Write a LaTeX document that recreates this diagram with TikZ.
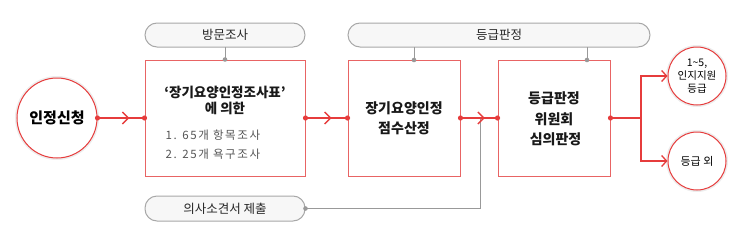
\documentclass[tikz,border=0pt]{standalone}
\usepackage{fontspec}
\setmainfont{Noto Sans CJK KR}
\newfontfamily\listfont{Noto Sans CJK KR}[LetterSpace=14]
\usetikzlibrary{arrows.meta, decorations.markings}
\definecolor{flowred}{HTML}{E63C3C}
\definecolor{boxred}{HTML}{E86464}
\definecolor{pillgray}{HTML}{A8A8A8}
\definecolor{pillfill}{HTML}{F7F7F7}
\definecolor{tapgray}{HTML}{999999}
\definecolor{listgray}{HTML}{555555}
\begin{document}
\begin{tikzpicture}[x=1pt, y=-1pt, line cap=round,
    stepbox/.style={draw=boxred, line width=1pt, fill=white, minimum height=116pt, inner sep=0pt},
    pillbox/.style={draw=pillgray, line width=1pt, fill=pillfill, rounded corners=12pt,
      minimum height=24pt, inner sep=0pt, font=\fontsize{12.5}{14}\selectfont, text=black!85},
    endcircle/.style={circle, draw=flowred, line width=1pt, fill=white, inner sep=0pt,
      preaction={draw=black!7, line width=4pt}},
    redline/.style={draw=flowred, line width=1.3pt},
    chevron/.style={decoration={markings, mark=at position #1 with
      {\arrow{Straight Barb[length=6pt, width=12pt, line width=1.4pt]}}}, postaction={decorate}},
    tipline/.style={redline, -{Straight Barb[length=5pt, width=11pt, line width=1.3pt]}},
    grayline/.style={draw=tapgray, line width=1pt},
    boldtext/.style={font=\bfseries\fontsize{14}{20}\selectfont, text=black!90, align=center}]
    \useasboundingbox (0,0) rectangle (746,233);

    % ---- main steps ----
    \node[endcircle, minimum size=80pt, font=\bfseries\fontsize{15}{18}\selectfont] (apply) at (57,118) {인정신청};
    \node[stepbox, minimum width=160pt] (survey) at (225,118) {};
    \node[stepbox, minimum width=112pt] (score) at (404,118) {};
    \node[stepbox, minimum width=112pt] (review) at (554,118) {};

    % ---- texts inside the steps ----
    \node[boldtext, font=\bfseries\fontsize{13.5}{16}\selectfont] (surveyTitle) at (225,100) {‘장기요양인정조사표’\\에 의한};
    \node[anchor=west, align=left, text=listgray, font=\listfont\fontsize{11.5}{19}\selectfont] (surveyList) at (162,145) {1. 65개 항목조사\\2. 25개 욕구조사};
    \node[boldtext] (scoreText) at (404,118) {장기요양인정\\점수산정};
    \node[boldtext, font=\bfseries\fontsize{14}{20.5}\selectfont] (reviewText) at (554,119) {등급판정\\위원회\\\ 심의판정};

    % ---- results ----
    \node[endcircle, minimum size=58pt, align=center, font=\fontsize{10.5}{13}\selectfont] (gradeIn) at (697,76) {1\textasciitilde5,\\인지지원\\등급};
    \node[endcircle, minimum size=58pt, font=\fontsize{11}{13}\selectfont] (gradeOut) at (697,161) {등급 외};

    % ---- labels above and below ----
    \node[pillbox, minimum width=160pt] (visit) at (225,35) {방문조사};
    \node[pillbox, minimum width=302pt] (grading) at (499,35) {등급판정};
    \node[pillbox, minimum width=160pt, minimum height=25pt] (opinion) at (225,208.5) {의사소견서 제출};

    % ---- taps from the labels ----
    \coordinate (tapA) at (414,60);
    \coordinate (tapB) at (587,60);
    \draw[grayline] (visit.south) -- (survey.north);
    \draw[grayline] (tapA |- grading.south) -- (tapA);
    \draw[grayline] (tapB |- grading.south) -- (tapB);
    \fill[tapgray] (survey.north) circle (2.3pt);
    \fill[tapgray] (tapA) circle (2.3pt);
    \fill[tapgray] (tapB) circle (2.3pt);

    % ---- flow between the steps ----
    \coordinate (merge) at (480,118);
    \coordinate (split) at (641,118);
    \draw[grayline] (opinion.east) -| (merge);
    \fill[tapgray] (opinion.east) circle (2.3pt);
    \draw[redline, chevron=0.68] (apply.east) -- (survey.west);
    \draw[redline, chevron=0.62] (survey.east) -- (score.west);
    \draw[redline, chevron=0.66] (score.east) -- (review.west);
    \draw[redline] (review.east) -- (split);
    \draw[tipline] (split) |- (gradeIn.west);
    \draw[tipline] (split) |- (gradeOut.west);

    % ---- joints ----
    \foreach \pt in {apply.east, survey.west, survey.east, score.west, score.east, review.west, review.east}
        \fill[flowred] (\pt) circle (2.6pt);
\end{tikzpicture}
\end{document}
